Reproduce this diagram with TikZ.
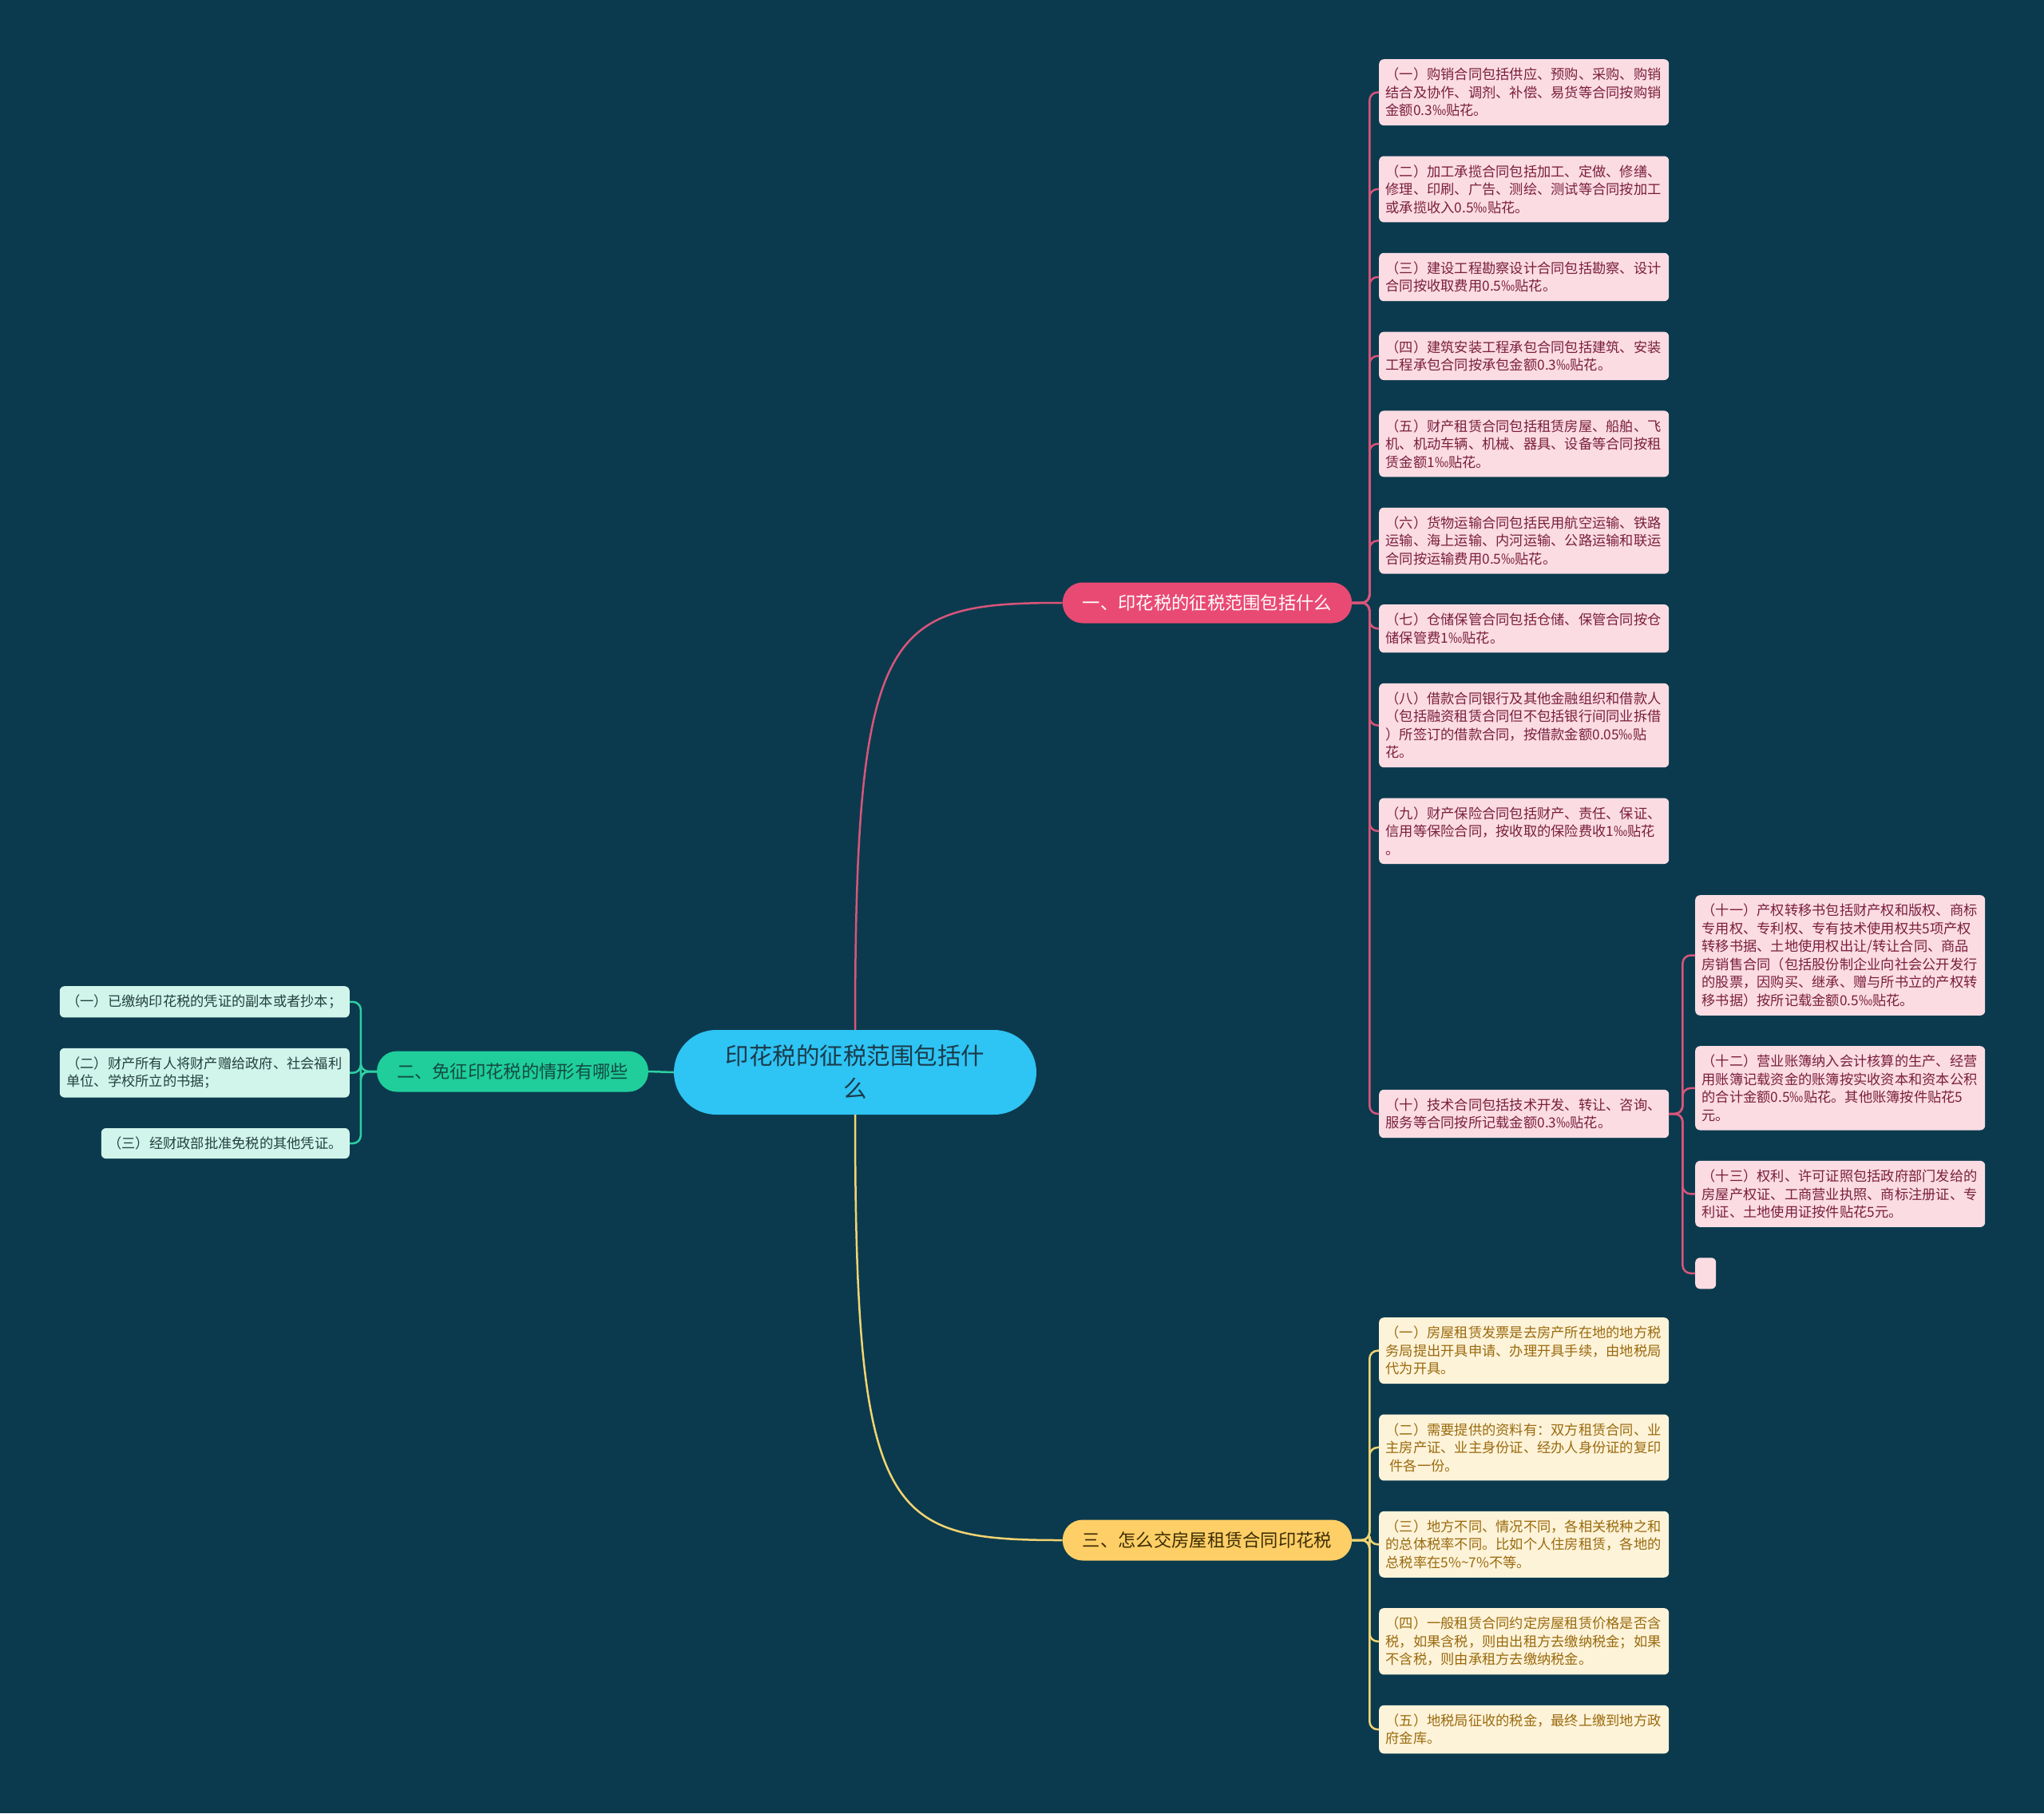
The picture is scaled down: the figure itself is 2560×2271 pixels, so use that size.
\documentclass[tikz,border=0pt]{standalone}
\usepackage{fontspec}
\setmainfont{Noto Sans CJK SC}
\usepackage{xcolor}
\usepackage{tikz}
\usetikzlibrary{positioning}

\definecolor{bgcol}{HTML}{0B3A4E}
\definecolor{rootfill}{HTML}{2EC4F4}
\definecolor{roottext}{HTML}{1B3B4B}
\definecolor{redfill}{HTML}{E94A73}
\definecolor{pinkfill}{HTML}{FBDCE3}
\definecolor{pinktext}{HTML}{7A1F3D}
\definecolor{pinkline}{HTML}{D9557A}
\definecolor{greenfill}{HTML}{1FCE9B}
\definecolor{greentext}{HTML}{134A44}
\definecolor{mintfill}{HTML}{D1F5EB}
\definecolor{minttext}{HTML}{24403F}
\definecolor{greenline}{HTML}{2ECFA3}
\definecolor{goldfill}{HTML}{FDCF66}
\definecolor{goldtext}{HTML}{3D2C05}
\definecolor{creamfill}{HTML}{FDF3D9}
\definecolor{creamtext}{HTML}{9A6A0E}
\definecolor{goldline}{HTML}{F2D472}

\begin{document}
\begin{tikzpicture}[x=1pt,y=-1pt,
      root/.style={rounded corners=53pt,fill=rootfill,text=roottext,minimum width=454pt,minimum height=106pt,align=center,font=\fontsize{29.5}{41}\selectfont},
      topic/.style={rounded corners=25pt,minimum height=51pt,inner xsep=25pt,font=\fontsize{22.3}{27}\selectfont},
      box/.style={rounded corners=6pt},
      leaf/.style={box,text width=346pt,align=left,inner xsep=8.5pt,inner ysep=10.85pt,font=\fontsize{17.25}{22.5}\selectfont},
      pleaf/.style={leaf,fill=pinkfill,text=pinktext},
      mleaf/.style={leaf,fill=mintfill,text=minttext},
      cleaf/.style={leaf,fill=creamfill,text=creamtext},
      link/.style={line width=2.5pt,rounded corners=10pt}]
      \fill[bgcol] (0,0) rectangle (2560,2271);

      \node[root] (root) at (1071,1343) {印花税的征税范围包括什\\么};
      \node[topic,fill=redfill,text=white] (t1) at (1512,755) {一、印花税的征税范围包括什么};
      \node[topic,fill=greenfill,text=greentext] (t2) at (642,1342) {二、免征印花税的情形有哪些};
      \node[topic,fill=goldfill,text=goldtext] (t3) at (1512,1929) {三、怎么交房屋租赁合同印花税};

      \node[pleaf,anchor=north west] (p1) at (1727,74) {（一）购销合同包括供应、预购、采购、购销\\结合及协作、调剂、补偿、易货等合同按购销\\金额0.3‰贴花。};
      \node[pleaf,below=38pt of p1] (p2) {（二）加工承揽合同包括加工、定做、修缮、\\修理、印刷、广告、测绘、测试等合同按加工\\或承揽收入0.5‰贴花。};
      \node[pleaf,below=38pt of p2] (p3) {（三）建设工程勘察设计合同包括勘察、设计\\合同按收取费用0.5‰贴花。};
      \node[pleaf,below=38pt of p3] (p4) {（四）建筑安装工程承包合同包括建筑、安装\\工程承包合同按承包金额0.3‰贴花。};
      \node[pleaf,below=38pt of p4] (p5) {（五）财产租赁合同包括租赁房屋、船舶、飞\\机、机动车辆、机械、器具、设备等合同按租\\赁金额1‰贴花。};
      \node[pleaf,below=38pt of p5] (p6) {（六）货物运输合同包括民用航空运输、铁路\\运输、海上运输、内河运输、公路运输和联运\\合同按运输费用0.5‰贴花。};
      \node[pleaf,below=38pt of p6] (p7) {（七）仓储保管合同包括仓储、保管合同按仓\\储保管费1‰贴花。};
      \node[pleaf,below=38pt of p7] (p8) {（八）借款合同银行及其他金融组织和借款人\\（包括融资租赁合同但不包括银行间同业拆借\\）所签订的借款合同，按借款金额0.05‰贴\\花。};
      \node[pleaf,below=38pt of p8] (p9) {（九）财产保险合同包括财产、责任、保证、\\信用等保险合同，按收取的保险费收1‰贴花\\。};
      \node[pleaf,anchor=west] (p10) at (1727,1395) {（十）技术合同包括技术开发、转让、咨询、\\服务等合同按所记载金额0.3‰贴花。};

      \node[pleaf,anchor=north west] (p11) at (2123,1121) {（十一）产权转移书包括财产权和版权、商标\\专用权、专利权、专有技术使用权共5项产权\\转移书据、土地使用权出让/转让合同、商品\\房销售合同（包括股份制企业向社会公开发行\\的股票，因购买、继承、赠与所书立的产权转\\移书据）按所记载金额0.5‰贴花。};
      \node[pleaf,below=38pt of p11] (p12) {（十二）营业账簿纳入会计核算的生产、经营\\用账簿记载资金的账簿按实收资本和资本公积\\的合计金额0.5‰贴花。其他账簿按件贴花5\\元。};
      \node[pleaf,below=38pt of p12] (p13) {（十三）权利、许可证照包括政府部门发给的\\房屋产权证、工商营业执照、商标注册证、专\\利证、土地使用证按件贴花5元。};
      \node[box,fill=pinkfill,minimum width=26pt,minimum height=39pt,anchor=north west] (p14) at ([yshift=-38pt]p13.south west) {};

      \node[mleaf,anchor=north east] (m1) at (438,1235) {（一）已缴纳印花税的凭证的副本或者抄本；};
      \node[mleaf,below=38pt of m1] (m2) {（二）财产所有人将财产赠给政府、社会福利\\单位、学校所立的书据；};
      \node[mleaf,text width=294pt,anchor=north east] (m3) at ([yshift=-38pt]m2.south east) {（三）经财政部批准免税的其他凭证。};

      \node[cleaf,anchor=north west] (c1) at (1727,1650) {（一）房屋租赁发票是去房产所在地的地方税\\务局提出开具申请、办理开具手续，由地税局\\代为开具。};
      \node[cleaf,below=38pt of c1] (c2) {（二）需要提供的资料有：双方租赁合同、业\\主房产证、业主身份证、经办人身份证的复印\\\hspace*{5pt}件各一份。};
      \node[cleaf,below=38pt of c2] (c3) {（三）地方不同、情况不同，各相关税种之和\\的总体税率不同。比如个人住房租赁，各地的\\总税率在5\%\textasciitilde7\%不等。};
      \node[cleaf,below=38pt of c3] (c4) {（四）一般租赁合同约定房屋租赁价格是否含\\税，如果含税，则由出租方去缴纳税金；如果\\不含税，则由承租方去缴纳税金。};
      \node[cleaf,below=38pt of c4] (c5) {（五）地税局征收的税金，最终上缴到地方政\\府金库。};

      \draw[link,pinkline] (root.north) .. controls +(0,-506) and +(-221,0) .. (t1.west);
      \draw[link,goldline] (root.south) .. controls +(0,506) and +(-221,0) .. (t3.west);
      \draw[link,greenline] (root.west) -- (t2.east);
      \foreach \n in {1,...,10}
        \draw[link,pinkline] (t1.east) -- ++(22,0) |- (p\n.west);
      \foreach \n in {11,...,14}
        \draw[link,pinkline] (p10.east) -- ++(17,0) |- (p\n.west);
      \foreach \n in {1,2,3}
        \draw[link,greenline] (t2.west) -- ++(-20,0) |- (m\n.east);
      \foreach \n in {1,...,5}
        \draw[link,goldline] (t3.east) -- ++(22,0) |- (c\n.west);
    \end{tikzpicture}
\end{document}
